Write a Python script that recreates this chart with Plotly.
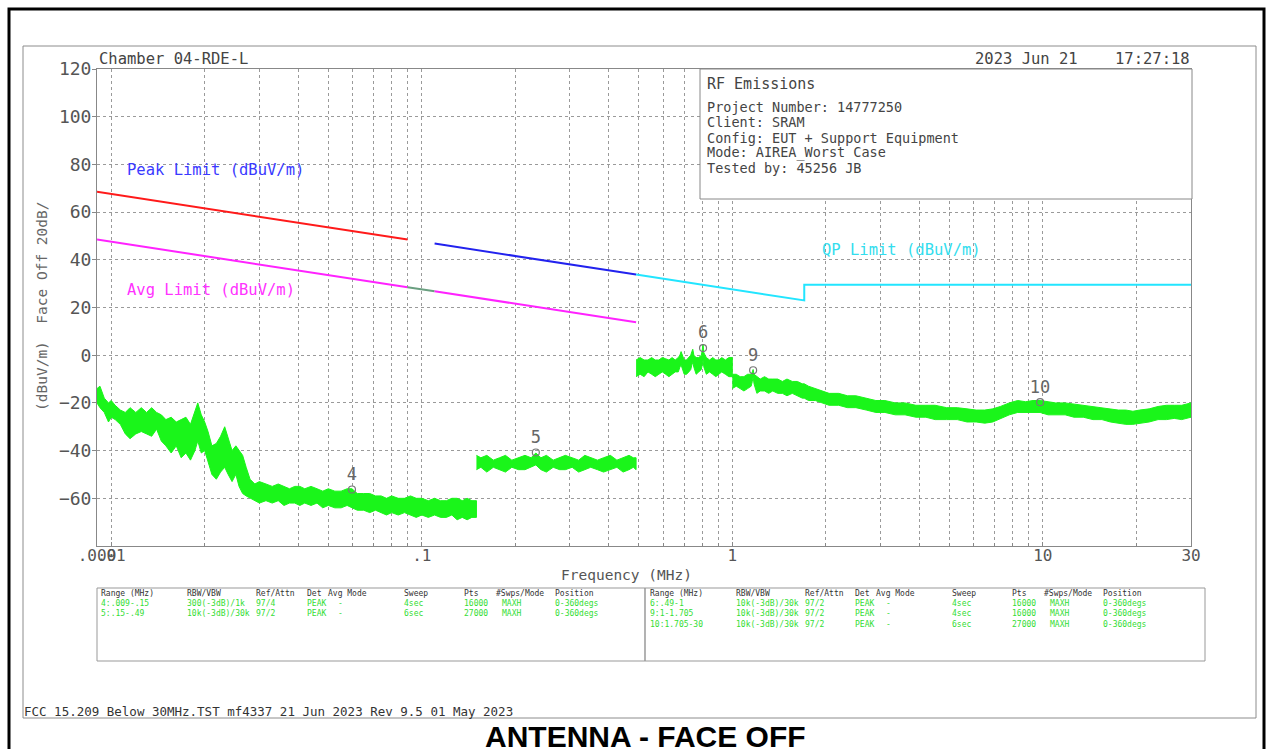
import plotly.graph_objects as go

# ---------------- data ----------------
# Limit lines (frequency in MHz, level in dBuV/m)
peak_lim_f = [0.009, 0.09]
peak_lim_v = [68.5, 48.5]
peak_lim2_f = [0.11, 0.49]
peak_lim2_v = [46.8, 33.8]
avg_lim_f = [0.009, 0.09]
avg_lim_v = [48.5, 28.5]
avg_gap_f = [0.09, 0.11]
avg_gap_v = [28.5, 26.8]
avg_lim2_f = [0.11, 0.49]
avg_lim2_v = [26.8, 13.8]
qp_lim_f = [0.49, 1.705, 1.705, 30]
qp_lim_v = [33.8, 22.97, 29.54, 29.54]

# Measured emission envelope per sweep range: frequency, lower and upper edge
seg4_f = [0.0090, 0.0092, 0.0095, 0.0098, 0.0100, 0.0103, 0.0107, 0.0111, 0.0115, 0.0120,
          0.0125, 0.0130, 0.0135, 0.0140, 0.0145, 0.0150, 0.0156, 0.0162, 0.0168, 0.0174,
          0.0180, 0.0186, 0.0190, 0.0195, 0.0200, 0.0205, 0.0211, 0.0218, 0.0225, 0.0232,
          0.0238, 0.0245, 0.0252, 0.0258, 0.0265, 0.0272, 0.0280, 0.0290,
          0.0300, 0.0315, 0.0330, 0.0345, 0.0360, 0.0375, 0.0390, 0.0405, 0.0420, 0.0440,
          0.0460, 0.0480, 0.0500, 0.0525, 0.0550, 0.0575, 0.0596, 0.0620, 0.0650, 0.0680,
          0.0710, 0.0740, 0.0770, 0.0800, 0.0840, 0.0880, 0.0920, 0.0960, 0.1000, 0.1050,
          0.1100, 0.1150, 0.1200, 0.1250, 0.1300, 0.1350, 0.1400, 0.1450, 0.1500]
seg4_lo = [-20, -22, -24, -28, -26, -27, -29, -33, -35, -33,
           -32, -33, -34, -31, -36, -38, -41, -38, -43, -41,
           -44, -40, -36, -41, -40, -44, -50, -52, -49, -47,
           -50, -53, -50, -55, -58, -59, -60, -61,
           -62, -61, -62, -61, -63, -62, -62, -63, -62, -63,
           -62, -64, -63, -64, -64, -63, -64, -65, -65, -66,
           -65, -66, -67, -66, -67, -66, -67, -68, -67, -68,
           -67, -68, -68, -67, -69, -68, -69, -68, -68]
seg4_hi = [-14, -13, -18, -20, -19, -21, -23, -24, -22, -24,
           -22, -24, -22, -24, -25, -27, -26, -28, -27, -26,
           -29, -24, -20, -25, -28, -32, -38, -37, -34, -30,
           -35, -40, -38, -40, -42, -47, -52, -54,
           -53, -54, -55, -54, -55, -56, -55, -55, -56, -55,
           -56, -57, -56, -57, -57, -56, -56, -58, -58, -58,
           -59, -59, -60, -59, -60, -60, -59, -60, -60, -61,
           -60, -61, -61, -60, -60, -61, -60, -61, -61]

seg5_f = [0.150, 0.155, 0.162, 0.170, 0.178, 0.186, 0.195, 0.205, 0.215, 0.225,
          0.233, 0.242, 0.252, 0.265, 0.278, 0.290, 0.305, 0.320, 0.335, 0.350,
          0.368, 0.385, 0.405, 0.425, 0.445, 0.465, 0.480, 0.490]
seg5_lo = [-48, -47, -49, -47, -48, -49, -47, -48, -48, -47,
           -46, -48, -49, -47, -48, -48, -47, -49, -48, -47,
           -48, -49, -48, -47, -49, -48, -47, -48]
seg5_hi = [-42, -43, -42, -44, -43, -42, -44, -43, -42, -43,
           -41, -43, -42, -44, -43, -42, -43, -44, -42, -43,
           -44, -43, -42, -44, -43, -42, -43, -43]

seg6_f = [0.490, 0.505, 0.520, 0.535, 0.550, 0.565, 0.580, 0.595, 0.610, 0.625,
          0.640, 0.655, 0.670, 0.678, 0.684, 0.690, 0.700, 0.712, 0.725, 0.735,
          0.741, 0.746, 0.752, 0.765, 0.780, 0.795, 0.800, 0.805, 0.810, 0.825,
          0.845, 0.865, 0.885, 0.905, 0.925, 0.950, 0.975, 1.000]
seg6_lo = [-9, -8, -9, -7, -8, -9, -8, -7, -8, -9,
           -8, -7, -7, -5, -4, -6, -8, -8, -7, -6,
           -4, -3, -5, -8, -7, -6, -4, -2, -5, -8,
           -7, -8, -9, -8, -7, -8, -9, -9]
seg6_hi = [-2, -1, -2, -2, -1, -2, -2, -1, -1.5, -2,
           -1, -2, -1, 0, 1.5, 0, -2, -2, -1, 0,
           1.5, 2.5, 0, -1, -1, 0, 2, 4.6, 1, -1,
           -2, -1, -2, -2, -1, -2, -1, -1]

seg9_f = [1.00, 1.03, 1.06, 1.09, 1.12, 1.15, 1.16, 1.167, 1.175, 1.20,
          1.23, 1.27, 1.31, 1.35, 1.40, 1.45, 1.50, 1.56, 1.62, 1.68,
          1.705, 1.76, 1.85, 1.95, 2.05, 2.2, 2.35, 2.5, 2.7, 2.9,
          3.1, 3.35, 3.6, 3.9, 4.2, 4.5, 4.9, 5.3, 5.7, 6.1,
          6.5, 6.9, 7.3, 7.8, 8.3, 8.8, 9.3, 9.8, 10.4, 11.0,
          11.8, 12.6, 13.5, 14.5, 15.5, 16.5, 17.5, 18.5, 19.5, 20.5,
          22.0, 23.5, 25.0, 26.5, 28.0, 30.0]
seg9_lo = [-14, -13, -14, -15, -14, -13, -11, -9, -12, -16,
           -15, -15, -16, -15, -16, -16, -17, -16, -17, -18,
           -18, -19, -19, -20, -21, -21, -22, -22, -23, -24,
           -24, -25, -25, -26, -26, -27, -27, -27, -28, -28,
           -28.5, -28, -26.7, -25, -24, -24, -24, -24, -25, -25,
           -25, -26, -26, -27, -27, -28, -28.5, -29, -29, -28.5,
           -28, -27, -27, -26.5, -27, -26]
seg9_hi = [-8, -8, -9, -9, -8, -8, -7, -6, -8, -9,
           -10, -9, -10, -10, -10, -11, -10, -11, -11, -12,
           -12, -13, -14, -15, -16, -16, -17, -17, -18, -19,
           -19, -20, -20, -21, -21, -21, -22, -22, -22.5, -23,
           -23, -22.5, -21.5, -20, -19, -19.5, -19, -19, -19.5, -20,
           -20, -20.5, -21, -21.5, -22, -22.5, -23, -23, -23.5, -23,
           -22.5, -21.5, -21, -21, -21, -20]

# Marker readings
mk_label = ["4", "5", "6", "9", "10"]
mk_f = [0.0596, 0.233, 0.805, 1.167, 9.8]
mk_v = [-56.3, -40.8, 3.0, -6.3, -19.7]

# Axis ticks
x_tick_vals = [0.009, 0.01, 0.1, 1, 10, 30]
x_tick_text = [".009", ".01", ".1", "1", "10", "30"]
x_grid_vals = [m * d for d in (0.01, 0.1, 1, 10) for m in range(1, 10) if m * d <= 30]
y_tick_vals = [-60, -40, -20, 0, 20, 40, 60, 80, 100, 120]

# Sweep settings table
tbl_cols = ["Range (MHz)", "RBW/VBW", "Ref/Attn", "Det", "Avg Mode", "Sweep", "Pts",
            "#Swps/Mode", "Position"]
tbl_left_rows = [
    ["4:.009-.15", "300(-3dB)/1k", "97/4", "PEAK", "-", "4sec", "16000", "MAXH", "0-360degs"],
    ["5:.15-.49", "10k(-3dB)/30k", "97/2", "PEAK", "-", "6sec", "27000", "MAXH", "0-360degs"],
]
tbl_right_rows = [
    ["6:.49-1", "10k(-3dB)/30k", "97/2", "PEAK", "-", "4sec", "16000", "MAXH", "0-360degs"],
    ["9:1-1.705", "10k(-3dB)/30k", "97/2", "PEAK", "-", "4sec", "16000", "MAXH", "0-360degs"],
    ["10:1.705-30", "10k(-3dB)/30k", "97/2", "PEAK", "-", "6sec", "27000", "MAXH", "0-360degs"],
]

info_lines = ["Project Number: 14777250", "Client: SRAM", "Config: EUT + Support Equipment",
              "Mode: AIREA_Worst Case", "Tested by: 45256 JB"]

# ---------------- layout helpers ----------------
W, H = 1273, 749
L, R, T, B = 97, 1191, 69, 546
MONO = "DejaVu Sans Mono"
GREY = "#555555"
TRACE = "#1af51a"


def px(x):
    return (x - L) / (R - L)


def py(y):
    return (B - y) / (B - T)


fig = go.Figure()

# emission envelopes
for f, lo, hi in [(seg4_f, seg4_lo, seg4_hi), (seg5_f, seg5_lo, seg5_hi),
                  (seg6_f, seg6_lo, seg6_hi), (seg9_f, seg9_lo, seg9_hi)]:
    fig.add_trace(go.Scatter(x=f + f[::-1], y=hi + lo[::-1], mode="lines", fill="toself",
                             fillcolor=TRACE, line=dict(color=TRACE, width=1),
                             hoverinfo="skip", showlegend=False))

# limit lines
for f, v, c in [(peak_lim_f, peak_lim_v, "#ff1a1a"), (peak_lim2_f, peak_lim2_v, "#2222ee"),
                (avg_lim_f, avg_lim_v, "#ff22ff"), (avg_gap_f, avg_gap_v, "#6a9f80"),
                (avg_lim2_f, avg_lim2_v, "#ff22ff"), (qp_lim_f, qp_lim_v, "#22e5ff")]:
    fig.add_trace(go.Scatter(x=f, y=v, mode="lines", line=dict(color=c, width=2),
                             hoverinfo="skip", showlegend=False))

# markers
fig.add_trace(go.Scatter(x=mk_f, y=mk_v, mode="markers+text", text=mk_label,
                         textposition="top center",
                         textfont=dict(family=MONO, size=17, color="#666666"),
                         marker=dict(symbol="circle-open", size=7, color="#777777",
                                     line=dict(width=1.2)),
                         hoverinfo="skip", showlegend=False))

shapes = []
annotations = []


def text(x, y, s, size=13, color=GREY, xanchor="left", family=MONO, **kw):
    annotations.append(dict(x=px(x), y=py(y), xref="paper", yref="paper", text=s,
                            showarrow=False, xanchor=xanchor, yanchor="middle",
                            font=dict(family=family, size=size, color=color), **kw))


def rect(x0, y0, x1, y1, color="#888888", width=1, fill=None, layer="above"):
    shapes.append(dict(type="rect", xref="paper", yref="paper", x0=px(x0), x1=px(x1),
                       y0=py(y0), y1=py(y1), line=dict(color=color, width=width),
                       fillcolor=fill if fill else "rgba(0,0,0,0)", layer=layer))


# page frames
rect(9, 9, 1264, 760, color="#000000", width=3)
rect(23, 46, 1256, 718, color="#8c8c8c", width=1)

# info box
rect(700, 69, 1192, 199, color="#888888", width=1, fill="white")
text(705, 84, "RF Emissions", size=15, color="#444444")
for i, s in enumerate(info_lines):
    text(705, 107 + i * 15.3, s, size=13.5, color="#444444")

# headers
text(97, 59, "Chamber 04-RDE-L", size=15.5, color="#444444")
text(1192, 59, "2023 Jun 21    17:27:18", size=15.5, color="#444444", xanchor="right")

# limit labels
text(125, 170, "Peak Limit (dBuV/m)", size=15.5, color="#3a3aff")
text(125, 290, "Avg Limit (dBuV/m)", size=15.5, color="#ff33ff")
text(820, 250, "QP Limit (dBuV/m)", size=15.5, color="#33ddee")

# axis titles
text(626, 575, "Frequency (MHz)", size=14.5, color="#555555", xanchor="center")
text(42, 306, "(dBuV/m)  Face Off 20dB/", size=14.5, color="#666666", xanchor="center",
     textangle=-90)

# sweep table
rect(97, 588, 645, 661, color="#999999")
rect(645, 588, 1205, 661, color="#999999")
left_x = [99, 185, 254, 305, 326, 402, 462, 494, 553]
right_x = [648, 734, 803, 853, 874, 950, 1010, 1042, 1101]
for xs, rows in [(left_x, tbl_left_rows), (right_x, tbl_right_rows)]:
    for c, s in enumerate(tbl_cols):
        text(xs[c], 593, s, size=8, color="#333333")
    for r, row in enumerate(rows):
        for c, s in enumerate(row):
            xx = xs[c]
            if c == 4:
                xx = xs[3] + 31
            if c == 7:
                xx = xs[7] + 6
            text(xx, 603.5 + r * 10.3, s, size=8, color="#33dd33")

# footer
text(22, 711, "FCC 15.209 Below 30MHz.TST mf4337 21 Jun 2023 Rev 9.5 01 May 2023",
     size=12.5, color="#333333")
text(645, 736, "ANTENNA - FACE OFF", size=30, color="#000000", xanchor="center",
     family="Liberation Sans, Arial, sans-serif")
annotations[-1]["font"]["weight"] = "bold"

fig.update_layout(
    width=W, height=H,
    margin=dict(l=L, r=W - R, t=T, b=H - B, pad=0),
    paper_bgcolor="white", plot_bgcolor="white",
    shapes=shapes, annotations=annotations,
    xaxis=dict(type="log", range=[-2.04576, 1.47712],
               tickvals=x_tick_vals, ticktext=x_tick_text, tickangle=0,
               tickfont=dict(family=MONO, size=16, color=GREY),
               ticks="inside", ticklen=4, tickcolor="#888888", ticklabelstandoff=-5,
               showgrid=False, showline=True, linecolor="#888888", mirror=True,
               zeroline=False,
               minor=dict(tickvals=x_grid_vals, showgrid=True, gridcolor="#9a9a9a",
                          griddash="dot", gridwidth=1, ticks="inside", ticklen=3,
                          tickcolor="#888888")),
    yaxis=dict(range=[-80, 120], tickvals=y_tick_vals,
               tickfont=dict(family=MONO, size=18, color=GREY),
               ticks="outside", ticklen=4, tickcolor="#888888", ticklabelstandoff=-3,
               showgrid=True, gridcolor="#9a9a9a", griddash="dot", gridwidth=1,
               showline=True, linecolor="#888888", mirror=True, zeroline=False),
)

fig.write_html("out.html")
